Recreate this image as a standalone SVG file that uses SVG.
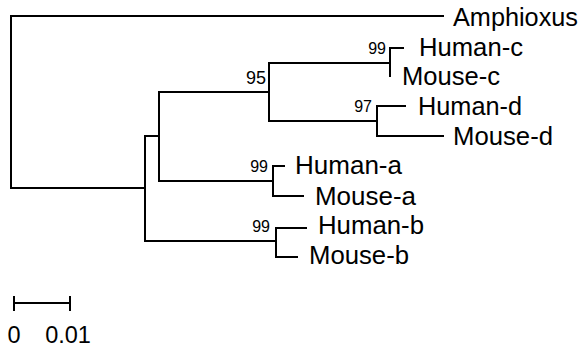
<svg xmlns="http://www.w3.org/2000/svg" width="584" height="350" viewBox="0 0 584 350">
<style>
.br{fill:none;stroke:#000;stroke-width:2;stroke-linecap:square}
.lab{font-family:"Liberation Sans",Arial,sans-serif;font-size:25px;fill:#000}
.bs{font-family:"Liberation Sans",Arial,sans-serif;font-size:16px;fill:#000;text-anchor:end}
.sc{font-family:"Liberation Sans",Arial,sans-serif;font-size:23.5px;fill:#000;text-anchor:middle}
</style>
<rect width="584" height="350" fill="#fff"/>
<g id="connectors" class="br">
<path d="M443,16 H11 V188 H145"/>
<path d="M145,136 V241 H276"/>
<path d="M145,136 H159 V92 H269"/>
<path d="M159,92 V181 H273"/>
<path d="M269,63 V121"/>
<path d="M269,63 H390 V48 H403"/>
<path d="M390,63 V76"/>
<path d="M269,121 H377 V106 H405"/>
<path d="M377,121 V136 H443"/>
<path d="M273,166 V196 H303"/>
<path d="M273,166 H284"/>
<path d="M276,228 V257 H297"/>
<path d="M276,228 H306"/>
</g>
<g id="Amphioxus"><text class="lab" x="453" y="26" style="font-size:25.5px" textLength="125" lengthAdjust="spacingAndGlyphs">Amphioxus</text></g>
<g id="Human-c"><text class="lab" x="419" y="56" textLength="104" lengthAdjust="spacingAndGlyphs">Human-c</text></g>
<g id="Mouse-c"><text class="lab" x="402" y="85" textLength="98" lengthAdjust="spacingAndGlyphs">Mouse-c</text></g>
<g id="Human-d"><text class="lab" x="418" y="115" textLength="104" lengthAdjust="spacingAndGlyphs">Human-d</text></g>
<g id="Mouse-d"><text class="lab" x="453" y="145" textLength="100" lengthAdjust="spacingAndGlyphs">Mouse-d</text></g>
<g id="Human-a"><text class="lab" x="295" y="174" textLength="107" lengthAdjust="spacingAndGlyphs">Human-a</text></g>
<g id="Mouse-a"><text class="lab" x="315" y="205" textLength="101" lengthAdjust="spacingAndGlyphs">Mouse-a</text></g>
<g id="Human-b"><text class="lab" x="318" y="234" textLength="106" lengthAdjust="spacingAndGlyphs">Human-b</text></g>
<g id="Mouse-b"><text class="lab" x="309" y="264" textLength="100" lengthAdjust="spacingAndGlyphs">Mouse-b</text></g>
<g id="bootstrap">
<text class="bs" x="386" y="54">99</text>
<text class="bs" x="266" y="84" style="font-size:18px">95</text>
<text class="bs" x="372" y="112">97</text>
<text class="bs" x="268" y="172">99</text>
<text class="bs" x="270" y="232">99</text>
</g>
<g id="scale-bar">
<path class="br" d="M14,297 V310 M14,303 H70 M70,297 V310"/>
<text class="sc" x="14" y="343">0</text>
<text class="sc" x="68" y="343">0.01</text>
</g>
</svg>
